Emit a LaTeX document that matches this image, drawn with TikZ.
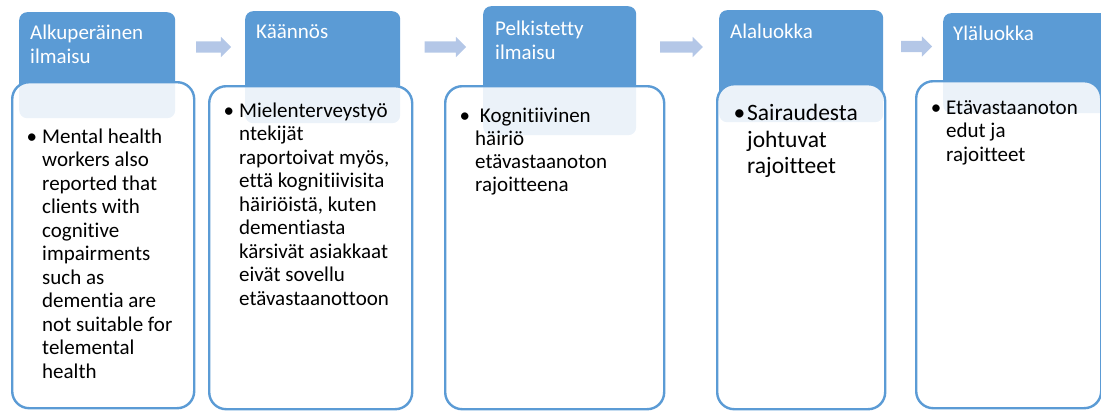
\documentclass[tikz,border=0pt]{standalone}
\usepackage{fontspec}
\setmainfont{Carlito}[Ligatures={NoCommon,NoRequired}]
\usetikzlibrary{shapes.arrows}
\definecolor{hdrblue}{HTML}{5B9BD5}
\definecolor{arrblue}{HTML}{B4C7E7}
\newcommand{\bul}{\llap{\textbullet\hspace{5pt}}}
\newcommand{\lines}[1]{\begin{tabular}[t]{@{}l@{}}#1\end{tabular}}
\begin{document}
\begin{tikzpicture}[x=1pt,y=-1pt,
	header/.style={fill=hdrblue, rounded corners=8pt, anchor=north west, inner sep=0pt},
	card/.style={draw=hdrblue, line width=2.4pt, fill=white, fill opacity=0.88, rounded corners=17pt, anchor=north west, inner sep=0pt},
	headtext/.style={text=white, anchor=base west, inner sep=0pt, font=\fontsize{21}{24}\selectfont},
	cardtext/.style={anchor=base west, inner sep=0pt, font=\fontsize{21}{23.5}\selectfont},
	flow/.style={single arrow, fill=arrblue, single arrow head extend=4.5pt, single arrow tip angle=90, inner xsep=0pt, inner ysep=5.5pt, minimum width=0pt}]
	\clip (0,0) rectangle (1101,410);
	% headers
	\node[header, minimum width=156pt, minimum height=106pt] at (19,12)(h1){};
	\node[header, minimum width=155pt, minimum height=112pt] at (245,11)(h2){};
	\node[header, minimum width=153pt, minimum height=129pt] at (483,6)(h3){};
	\node[header, minimum width=164pt, minimum height=112pt] at (719,10)(h4){};
	\node[header, minimum width=172pt, minimum height=100pt] at (943,13)(h5){};
	% cards
	\node[card, minimum width=182pt, minimum height=326pt] at (11,81)(b1){};
	\node[card, minimum width=203pt, minimum height=323pt] at (208,85)(b2){};
	\node[card, minimum width=219pt, minimum height=323pt] at (444,85)(b3){};
	\node[card, minimum width=168pt, minimum height=325pt] at (716,83)(b4){};
	\node[card, minimum width=185pt, minimum height=327pt] at (915,80)(b5){};
	% arrows
	\node[flow, minimum height=35pt] at (210.8,47)(a1){};
	\node[flow, minimum height=41.6pt] at (442.5,47)(a2){};
	\node[flow, minimum height=42.7pt] at (678.6,47)(a3){};
	\node[flow, minimum height=31pt] at (913.8,46.5)(a4){};
	% header labels
	\node[headtext] at (30,39.3)(l1){\lines{Alkuperäinen\\ilmaisu}};
	\node[headtext] at (256,38.3)(l2){Käännös};
	\node[headtext] at (495,35)(l3){\lines{Pelkistetty\\ilmaisu}};
	\node[headtext] at (730,38.3)(l4){Alaluokka};
	\node[headtext] at (953,40.7)(l5){Yläluokka};
	% card texts
	\node[cardtext] at (42,143)(t1){\lines{\bul Mental health\\workers also\\reported that\\clients with\\cognitive\\impairments\\such as\\dementia are\\not suitable for\\telemental\\health}};
	\node[cardtext] at (239,117.3)(t2){\lines{\bul Mielenterveystyö\\ntekijät\\raportoivat myös,\\että kognitiivisita\\häiriöistä, kuten\\dementiasta\\kärsivät asiakkaat\\eivät sovellu\\etävastaanottoon}};
	\node[cardtext, font=\fontsize{21}{23.2}\selectfont] at (475,122.3)(t3){\lines{\bul\ Kognitiivinen\\häiriö\\etävastaanoton\\rajoitteena}};
	\node[cardtext, font=\fontsize{23.5}{26.3}\selectfont] at (747,120.7)(t4){\lines{\llap{\textbullet\hspace{2pt}}Sairaudesta\\johtuvat\\rajoitteet}};
	\node[cardtext, font=\fontsize{21}{23.4}\selectfont] at (946,114.3)(t5){\lines{\bul Etävastaanoton\\edut ja\\rajoitteet}};
\end{tikzpicture}
\end{document}
